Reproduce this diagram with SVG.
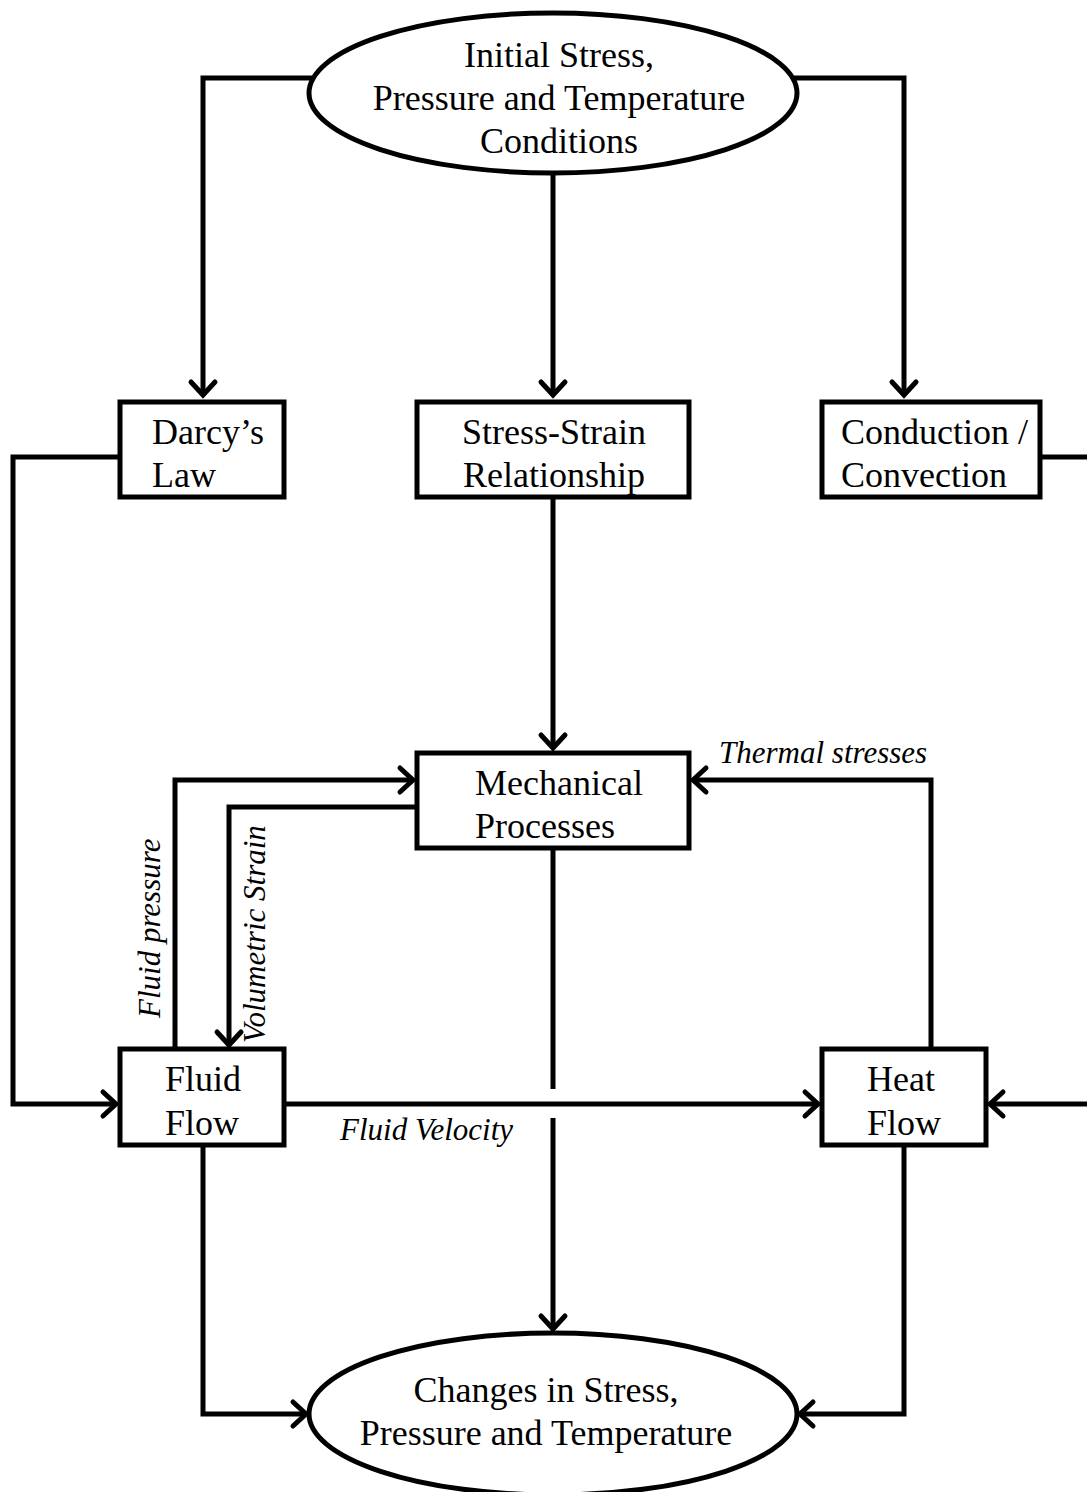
<svg xmlns="http://www.w3.org/2000/svg" width="1087" height="1492" viewBox="0 0 1087 1492">
<style>
.shape{fill:#fff;stroke:#000;stroke-width:5}
.t{font-family:"Liberation Serif","Times New Roman",serif;font-size:36px;fill:#000}
.c{text-anchor:middle}
.lbl{font-family:"Liberation Serif","Times New Roman",serif;font-size:31px;font-style:italic;fill:#000}
.conn path{fill:none;stroke:#000;stroke-width:5;stroke-linejoin:miter}
</style>
<defs>
<marker id="arr" markerUnits="userSpaceOnUse" viewBox="-20 -16 24 32" refX="0" refY="0" markerWidth="24" markerHeight="32" orient="auto" overflow="visible">
<path d="M-13,-12 L0,0 L-13,12" fill="none" stroke="#000" stroke-width="5" stroke-linecap="round" stroke-linejoin="miter"/>
</marker>
</defs>
<rect width="1087" height="1492" fill="#fff"/>
<g class="conn" id="connectors">
<path d="M312,78 H203 V395" marker-end="url(#arr)"/>
<path d="M794,78 H904 V395" marker-end="url(#arr)"/>
<path d="M553,173 V395" marker-end="url(#arr)"/>
<path d="M120,457 H13 V1104 H116" marker-end="url(#arr)"/>
<path d="M1040,457 H1090"/>
<path d="M1090,1104 H990" marker-end="url(#arr)"/>
<path d="M553,497 V748" marker-end="url(#arr)"/>
<path d="M175,1049 V780 H413" marker-end="url(#arr)"/>
<path d="M417,807 H229 V1045" marker-end="url(#arr)"/>
<path d="M931,1049 V780 H693" marker-end="url(#arr)"/>
<path d="M553,848 V1089"/>
<path d="M553,1118 V1329" marker-end="url(#arr)"/>
<path d="M284,1104 H818" marker-end="url(#arr)"/>
<path d="M203,1145 V1414 H306" marker-end="url(#arr)"/>
<path d="M904,1145 V1414 H800" marker-end="url(#arr)"/>
</g>
<g id="initial">
<ellipse class="shape" cx="553" cy="93" rx="244" ry="80"/>
<text class="t c" x="559" y="67">Initial Stress,</text>
<text class="t c" x="559" y="110">Pressure and Temperature</text>
<text class="t c" x="559" y="153">Conditions</text>
</g>
<g id="darcy">
<rect class="shape" x="120" y="402" width="164" height="95"/>
<text class="t" x="152" y="444">Darcy’s</text>
<text class="t" x="152" y="487">Law</text>
</g>
<g id="stressstrain">
<rect class="shape" x="417" y="402" width="272" height="95"/>
<text class="t c" x="554" y="444">Stress-Strain</text>
<text class="t c" x="554" y="487">Relationship</text>
</g>
<g id="conduction">
<rect class="shape" x="822" y="402" width="218" height="95"/>
<text class="t" x="841" y="444">Conduction /</text>
<text class="t" x="841" y="487">Convection</text>
</g>
<g id="mechanical">
<rect class="shape" x="417" y="753" width="272" height="95"/>
<text class="t" x="475" y="795">Mechanical</text>
<text class="t" x="475" y="838">Processes</text>
</g>
<g id="fluidflow">
<rect class="shape" x="120" y="1049" width="164" height="96"/>
<text class="t" x="165" y="1091">Fluid</text>
<text class="t" x="165" y="1135">Flow</text>
</g>
<g id="heatflow">
<rect class="shape" x="822" y="1049" width="164" height="96"/>
<text class="t" x="867" y="1091">Heat</text>
<text class="t" x="867" y="1135">Flow</text>
</g>
<g id="changes">
<ellipse class="shape" cx="553" cy="1414" rx="244" ry="81"/>
<text class="t c" x="546" y="1402">Changes in Stress,</text>
<text class="t c" x="546" y="1445">Pressure and Temperature</text>
</g>
<g id="labels">
<text class="lbl" x="719" y="763">Thermal stresses</text>
<text class="lbl" x="340" y="1140">Fluid Velocity</text>
<text class="lbl" transform="translate(160,1018) rotate(-90)">Fluid pressure</text>
<text class="lbl" transform="translate(265,1043) rotate(-90)">Volumetric Strain</text>
</g>
</svg>
